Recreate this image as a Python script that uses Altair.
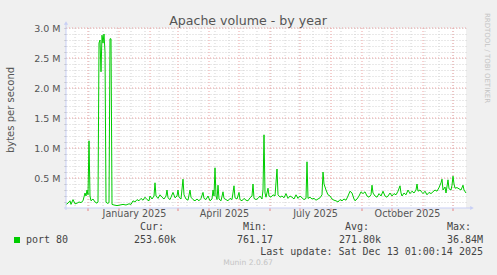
import altair as alt
import pandas as pd
from datetime import date, timedelta

# ---------------- data ----------------
START = date(2024, 11, 9)
day_offsets = [0, 2, 4, 5, 7, 9, 11, 13, 15, 17, 19, 20, 21, 22, 23, 24, 25, 27, 29, 31,
               32, 33, 34, 35, 36, 37, 38, 39, 40, 41, 42, 43, 44, 45, 46, 48, 51, 54, 57, 60,
               63, 65, 67, 69, 71, 73, 75, 77, 79, 81, 83, 84, 86, 88, 89, 90, 92, 94, 96, 98,
               100, 101, 102, 104, 105, 107, 109, 111, 112, 113, 115, 117, 118, 120, 122, 124, 125, 127, 129, 131,
               133, 135, 137, 138, 140, 142, 144, 146, 147, 148, 149, 150, 151, 152, 153, 155, 157, 158, 160, 162,
               164, 166, 168, 169, 171, 173, 174, 176, 178, 180, 182, 184, 186, 187, 188, 190, 192, 194, 196, 197,
               198, 199, 200, 202, 203, 205, 207, 209, 211, 212, 214, 216, 218, 220, 222, 224, 226, 228, 230, 232,
               234, 236, 238, 240, 241, 242, 244, 246, 248, 250, 252, 254, 256, 257, 258, 260, 262, 264, 266, 268,
               270, 272, 274, 276, 278, 280, 282, 284, 286, 288, 289, 291, 293, 295, 297, 299, 301, 303, 305, 306,
               307, 309, 311, 313, 315, 317, 319, 321, 322, 324, 326, 328, 330, 332, 334, 335, 336, 338, 340, 342,
               344, 346, 348, 350, 351, 352, 354, 356, 357, 359, 361, 363, 365, 367, 369, 371, 373, 375, 376, 377,
               379, 380, 382, 383, 385, 386, 387, 388, 389, 391, 393, 395, 397, 398, 400]
volume_m = [0.06, 0.08, 0.12, 0.06, 0.14, 0.07, 0.08, 0.10, 0.09, 0.12, 0.25, 0.20, 0.30, 0.22, 1.12, 0.20, 0.12, 0.15, 0.10, 0.08,
            0.10, 2.75, 2.80, 2.27, 2.88, 2.75, 2.90, 2.60, 0.10, 0.08, 0.08, 0.09, 2.82, 2.82, 0.06, 0.05, 0.04, 0.05, 0.06, 0.05,
            0.07, 0.06, 0.12, 0.10, 0.14, 0.12, 0.16, 0.13, 0.18, 0.14, 0.12, 0.20, 0.15, 0.20, 0.42, 0.20, 0.16, 0.22, 0.18, 0.15,
            0.20, 0.30, 0.17, 0.14, 0.18, 0.26, 0.17, 0.20, 0.30, 0.18, 0.15, 0.48, 0.22, 0.15, 0.13, 0.30, 0.18, 0.14, 0.12, 0.15,
            0.12, 0.16, 0.26, 0.16, 0.14, 0.20, 0.12, 0.15, 0.30, 0.20, 0.67, 0.20, 0.14, 0.38, 0.15, 0.12, 0.27, 0.16, 0.14, 0.12,
            0.16, 0.14, 0.37, 0.17, 0.15, 0.26, 0.14, 0.12, 0.16, 0.13, 0.12, 0.17, 0.20, 0.40, 0.16, 0.14, 0.16, 0.20, 0.15, 0.30,
            1.22, 0.25, 0.18, 0.33, 0.20, 0.18, 0.22, 0.20, 0.65, 0.22, 0.18, 0.20, 0.17, 0.24, 0.16, 0.20, 0.18, 0.15, 0.22, 0.16,
            0.20, 0.17, 0.14, 0.16, 0.77, 0.16, 0.18, 0.15, 0.16, 0.13, 0.15, 0.17, 0.22, 0.60, 0.40, 0.30, 0.22, 0.20, 0.15, 0.13,
            0.12, 0.10, 0.14, 0.12, 0.15, 0.13, 0.20, 0.28, 0.25, 0.15, 0.12, 0.15, 0.20, 0.27, 0.24, 0.27, 0.20, 0.18, 0.22, 0.38,
            0.25, 0.20, 0.18, 0.24, 0.20, 0.28, 0.20, 0.18, 0.20, 0.25, 0.20, 0.24, 0.22, 0.28, 0.37, 0.25, 0.20, 0.25, 0.22, 0.30,
            0.24, 0.28, 0.25, 0.30, 0.40, 0.28, 0.30, 0.26, 0.24, 0.28, 0.22, 0.26, 0.24, 0.27, 0.30, 0.28, 0.34, 0.42, 0.48, 0.30,
            0.35, 0.25, 0.47, 0.32, 0.30, 0.38, 0.53, 0.40, 0.33, 0.34, 0.32, 0.30, 0.38, 0.30, 0.25]
assert len(day_offsets) == len(volume_m)

month_starts = ["2024-12-01", "2025-01-01", "2025-02-01", "2025-03-01", "2025-04-01",
                "2025-05-01", "2025-06-01", "2025-07-01", "2025-08-01", "2025-09-01",
                "2025-10-01", "2025-11-01", "2025-12-01"]
minor_x_first = date(2024, 11, 18)
minor_x_count = 28
minor_y = [k * 100000 for k in range(1, 31)]
major_y = [k * 500000 for k in range(1, 7)]
x_label_dates = [(2025, 1, 16), (2025, 4, 16), (2025, 7, 16), (2025, 10, 16)]

title_text = "Apache volume - by year"
y_title = "bytes per second"
watermark = "RRDTOOL / TOBI OETIKER"
series_name = "port 80"
legend_heads = ["Cur:", "Min:", "Avg:", "Max:"]
legend_vals = ["253.60k", "761.17", "271.80k", "36.84M"]
last_update = "Last update: Sat Dec 13 01:00:14 2025"
footer = "Munin 2.0.67"

# ---------------- frames ----------------
def iso(d):
    return d.isoformat() + "T00:00:00Z"

df = pd.DataFrame({
    "t": [iso(START + timedelta(days=d)) for d in day_offsets],
    "bps": [v * 1e6 for v in volume_m],
})
month_df = pd.DataFrame({"t": [m + "T00:00:00Z" for m in month_starts]})
minor_df = pd.DataFrame({"t": [iso(minor_x_first + timedelta(days=14 * k)) for k in range(minor_x_count)]})
major_df = pd.DataFrame({"bps": major_y})
one = pd.DataFrame({"a": [0]})

W, H = 400, 180
GRAY = "#d2d2d2"
RED = "#eea4a4"
AXIS = "#c8cff5"
TXT = "#555555"
FONT = "DejaVu Sans"
MONO = "DejaVu Sans Mono"

xscale = alt.Scale(type="utc",
                   domain=[alt.DateTime(year=2024, month=11, date=9, utc=True),
                           alt.DateTime(year=2025, month=12, date=14, utc=True)])
yscale = alt.Scale(domain=[0, 3000000], nice=False)

xaxis = alt.Axis(values=[alt.DateTime(year=y, month=m, date=d, utc=True) for (y, m, d) in x_label_dates],
                 format="%B %Y", title=None, grid=False, ticks=False, tickSize=0, domain=False,
                 labelFont=FONT, labelFontSize=9.6, labelColor=TXT, labelPadding=5,
                 labelBaseline="middle", labelOverlap=False, labelFlush=False)
yaxis = alt.Axis(values=minor_y, title=None, grid=True, gridColor=GRAY, gridDash=[1, 2],
                 ticks=True, tickSize=2, tickColor="#bbbbbb", domain=False,
                 labelExpr="datum.value > 0 && datum.value % 500000 == 0 ? format(datum.value / 1000000, '.1f') + ' M' : ''",
                 labelFont=FONT, labelFontSize=9.5, labelColor=TXT, labelPadding=4,
                 labelOverlap=False)


def X():
    return alt.X("t:T", scale=xscale, axis=xaxis)


def Y():
    return alt.Y("bps:Q", scale=yscale, axis=yaxis)


minor_rules = alt.Chart(minor_df).mark_rule(color=GRAY, strokeDash=[1, 2], strokeWidth=1).encode(x=X())
month_rules = alt.Chart(month_df).mark_rule(color=RED, strokeDash=[1, 2], strokeWidth=1).encode(x=X())
month_ticks = alt.Chart(month_df).mark_rule(color="#e88080", strokeWidth=1).encode(
    x=X(), y=alt.value(H), y2=alt.value(H + 3))
major_rules = alt.Chart(major_df).mark_rule(color=RED, strokeDash=[1, 2], strokeWidth=1).encode(y=Y())
line = alt.Chart(df).mark_line(color="#00CC00", strokeWidth=1, interpolate="linear").encode(x=X(), y=Y())

x_axis_line = alt.Chart(one).mark_rule(color=AXIS, strokeWidth=1).encode(
    x=alt.value(-2), x2=alt.value(W + 5), y=alt.value(H))
y_axis_line = alt.Chart(one).mark_rule(color=AXIS, strokeWidth=1).encode(
    x=alt.value(0), y=alt.value(H + 2), y2=alt.value(-5))
arrow_up = alt.Chart(one).mark_point(shape="triangle-up", filled=True, color=AXIS, size=18, opacity=1).encode(
    x=alt.value(0), y=alt.value(-5))
arrow_right = alt.Chart(one).mark_point(shape="triangle-right", filled=True, color=AXIS, size=18, opacity=1).encode(
    x=alt.value(W + 6), y=alt.value(H))


def text(s, x, y, size, color=TXT, font=FONT, align="left", angle=0, baseline="middle"):
    kw = dict(fontSize=size, color=color, font=font, align=align, baseline=baseline)
    if angle:
        kw["angle"] = angle
    return alt.Chart(one).mark_text(**kw).encode(
        x=alt.value(x), y=alt.value(y), text=alt.value(s))


texts = [
    text(title_text, 182, -3.5, 12.6, color="#555555", align="center", baseline="alphabetic"),
    text(y_title, -55, 82, 10, align="center", angle=270),
    text(watermark, 421, 30, 7, color="#c4c4c4", align="center", angle=90),
    text(series_name, -40, 212, 10, color="#444444", font=MONO),
    text(last_update, 417, 224, 10, color="#444444", font=MONO, align="right"),
    text(footer, 182, 235, 7.6, color="#c4c4c4", align="center"),
]
head_x = [74, 177, 279, 381]
val_x = [68, 171, 273, 381]
for h, hx in zip(legend_heads, head_x):
    texts.append(text(h, hx, 199, 10, color="#444444", font=MONO))
for v, vx in zip(legend_vals, val_x):
    texts.append(text(v, vx, 212, 10, color="#444444", font=MONO))

swatch = alt.Chart(one).mark_rect(color="#00CC00").encode(
    x=alt.value(-52), x2=alt.value(-46), y=alt.value(209), y2=alt.value(215))

chart = alt.layer(
    minor_rules, month_rules, major_rules, month_ticks, line,
    x_axis_line, y_axis_line, arrow_up, arrow_right, swatch, *texts
).properties(
    width=W, height=H,
    autosize=alt.AutoSizeParams(type="none"),
    padding={"left": 66, "top": 28, "right": 31, "bottom": 67},
    background="#F0F0F0",
).configure_view(fill="white", stroke=None)

chart.save("out.html", embed_options={"renderer": "svg", "actions": False})
